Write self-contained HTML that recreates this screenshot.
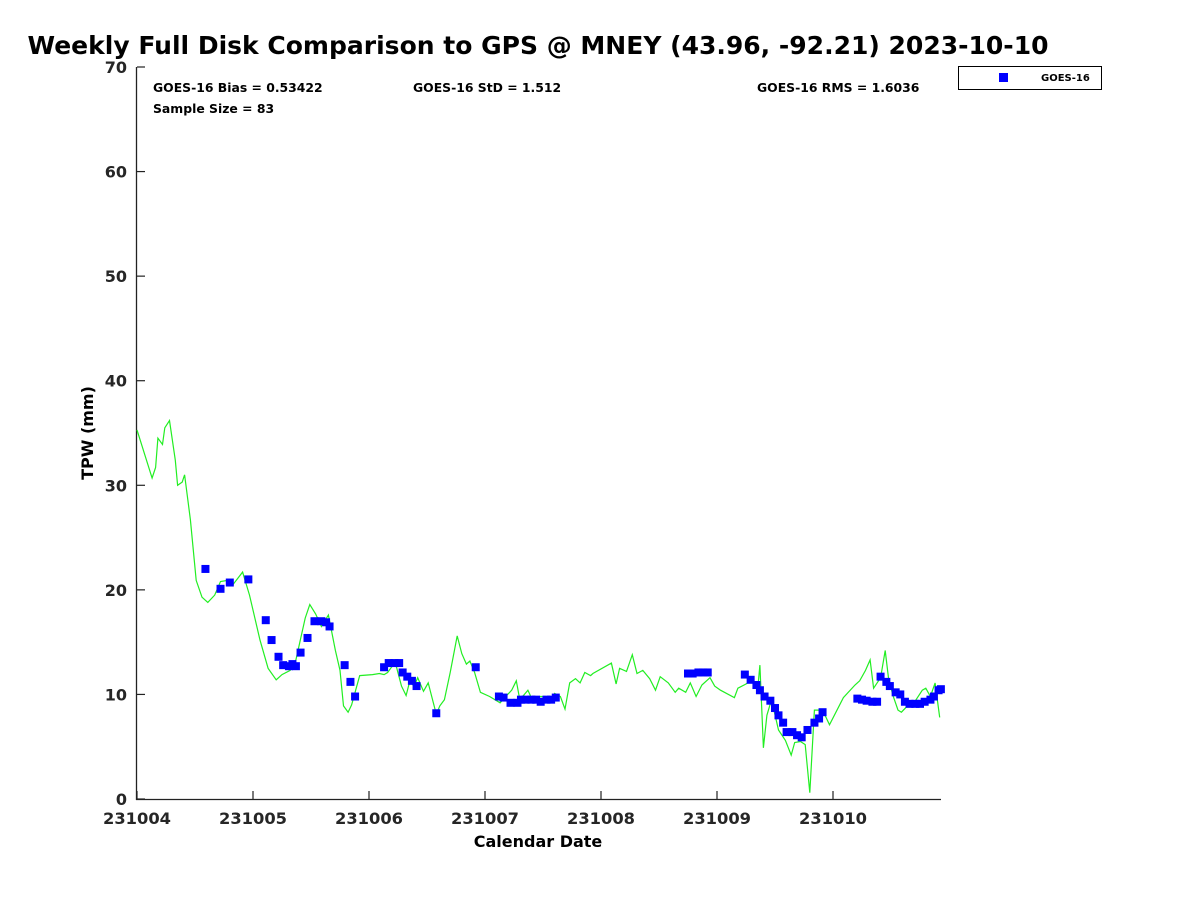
<!DOCTYPE html>
<html><head><meta charset="utf-8"><style>
body{margin:0;background:#fff;font-family:"Liberation Sans","DejaVu Sans",sans-serif}
svg text{font-family:"DejaVu Sans","Liberation Sans",sans-serif;font-weight:bold}
</style></head><body>
<svg id="chart" width="1200" height="900" xmlns="http://www.w3.org/2000/svg">
<rect width="1200" height="900" fill="#fff"/>
<text x="538" y="54" text-anchor="middle" font-size="25" textLength="1021" lengthAdjust="spacingAndGlyphs" fill="#000">Weekly Full Disk Comparison to GPS @ MNEY (43.96, -92.21) 2023-10-10</text>
<text x="153" y="92" font-size="12.4">GOES-16 Bias = 0.53422</text>
<text x="153" y="113" font-size="12.4">Sample Size = 83</text>
<text x="413" y="92" font-size="12.4">GOES-16 StD = 1.512</text>
<text x="757" y="92" font-size="12.4">GOES-16 RMS = 1.6036</text>
<g>
<rect x="958.5" y="66.5" width="143" height="23" fill="#fff" stroke="#000" stroke-width="1"/>
<rect x="999" y="73" width="9" height="9" fill="#0000ff"/>
<text x="1041" y="81" font-size="10">GOES-16</text>
</g>
<g id="axes"></g>
<g id="line"></g>
<g id="pts"></g>
<text transform="translate(93,433) rotate(-90)" text-anchor="middle" font-size="16">TPW (mm)</text>
<text x="538" y="847" text-anchor="middle" font-size="16">Calendar Date</text>
</svg>
<script>
const xTickLabels=["231004","231005","231006","231007","231008","231009","231010"];
const yTickValues=[0,10,20,30,40,50,60,70];
const gpsDays=[0,0.13,0.16,0.18,0.22,0.24,0.28,0.33,0.35,0.39,0.41,0.46,0.51,0.56,0.61,0.67,0.72,0.78,0.82,0.91,0.97,1.06,1.13,1.20,1.25,1.32,1.37,1.45,1.49,1.54,1.59,1.65,1.71,1.75,1.78,1.82,1.85,1.92,2.03,2.09,2.13,2.16,2.20,2.23,2.28,2.32,2.35,2.39,2.42,2.47,2.51,2.58,2.61,2.65,2.70,2.76,2.80,2.84,2.87,2.91,2.96,3.04,3.13,3.17,3.23,3.27,3.30,3.34,3.37,3.42,3.47,3.52,3.56,3.60,3.65,3.69,3.73,3.78,3.82,3.86,3.91,3.93,4.09,4.13,4.16,4.22,4.27,4.31,4.36,4.42,4.47,4.51,4.58,4.64,4.67,4.73,4.77,4.82,4.87,4.94,4.98,5.03,5.15,5.18,5.25,5.30,5.35,5.37,5.40,5.43,5.47,5.53,5.59,5.64,5.67,5.72,5.76,5.80,5.84,5.91,5.97,6.09,6.19,6.23,6.28,6.32,6.35,6.41,6.45,6.48,6.52,6.56,6.59,6.65,6.71,6.77,6.80,6.84,6.88,6.92];
const gpsValues=[35.3,30.7,31.7,34.5,33.9,35.5,36.2,32.4,30.0,30.3,31.0,26.7,20.9,19.3,18.8,19.5,20.8,20.9,20.4,21.7,19.5,15.2,12.5,11.4,11.9,12.3,13.3,17.3,18.6,17.7,16.5,17.6,14.2,12.3,8.9,8.3,9.0,11.8,11.9,12.0,11.9,12.1,12.7,12.9,10.8,9.9,11.2,10.8,11.6,10.3,11.1,8.1,8.9,9.5,12.1,15.6,13.9,12.9,13.2,12.1,10.2,9.8,9.2,9.7,10.4,11.3,9.5,10.0,10.4,9.2,9.8,9.8,9.5,10.1,9.8,8.6,11.1,11.5,11.1,12.1,11.8,12.0,13.0,11.0,12.5,12.2,13.8,12.0,12.3,11.5,10.4,11.7,11.1,10.2,10.6,10.2,11.1,9.8,10.9,11.6,10.8,10.4,9.7,10.6,11.0,11.4,10.4,12.8,4.9,8.0,9.5,6.6,5.6,4.2,5.4,5.5,5.2,0.6,8.5,8.5,7.1,9.7,10.9,11.3,12.3,13.3,10.6,11.6,14.2,11.4,9.8,8.5,8.3,9.0,9.4,10.4,10.6,9.8,11.1,7.8];
const goesDays=[0.59,0.72,0.80,0.96,1.11,1.16,1.22,1.26,1.31,1.34,1.37,1.41,1.47,1.53,1.59,1.63,1.66,1.79,1.84,1.88,2.13,2.17,2.22,2.26,2.29,2.33,2.37,2.41,2.58,2.92,3.12,3.16,3.22,3.28,3.31,3.35,3.40,3.44,3.48,3.53,3.57,3.61,4.75,4.79,4.84,4.88,4.92,5.24,5.29,5.34,5.37,5.41,5.46,5.50,5.53,5.57,5.60,5.65,5.69,5.73,5.78,5.84,5.88,5.91,6.21,6.25,6.29,6.34,6.38,6.41,6.46,6.49,6.54,6.58,6.62,6.66,6.71,6.75,6.79,6.84,6.87,6.91,6.93];
const goesValues=[22.0,20.1,20.7,21.0,17.1,15.2,13.6,12.8,12.7,12.9,12.7,14.0,15.4,17.0,17.0,16.9,16.5,12.8,11.2,9.8,12.6,13.0,13.0,13.0,12.1,11.7,11.3,10.8,8.2,12.6,9.8,9.7,9.2,9.2,9.5,9.5,9.5,9.5,9.3,9.5,9.5,9.7,12.0,12.0,12.1,12.1,12.1,11.9,11.4,10.9,10.4,9.8,9.4,8.7,8.0,7.3,6.4,6.4,6.1,5.9,6.6,7.3,7.7,8.3,9.6,9.5,9.4,9.3,9.3,11.7,11.2,10.8,10.2,10.0,9.3,9.1,9.1,9.1,9.3,9.5,9.8,10.4,10.5];

const NS="http://www.w3.org/2000/svg";
const X0=137,PXD=116,Y0=799,PXV=(799-67)/70,XR=941;
function xs(d){return X0+d*PXD;}
function ys(v){return Y0-v*PXV;}
function mk(tag,attrs,parent){const e=document.createElementNS(NS,tag);for(const k in attrs)e.setAttribute(k,attrs[k]);parent.appendChild(e);return e;}
const axes=document.getElementById('axes');
let e=mk('line',{x1:136.5,y1:67,x2:136.5,y2:800,stroke:'#222','stroke-width':1.3},axes);


e=mk('line',{x1:136,y1:799.5,x2:XR,y2:799.5,stroke:'#222','stroke-width':1.3},axes);


yTickValues.forEach(v=>{
  const y=ys(v);
  const t=mk('line',{x1:137,y1:y,x2:145,y2:y,stroke:'#222','stroke-width':1.2},axes);
  
  
  const l=mk('text',{x:127,y:y+6,'text-anchor':'end','font-size':16,fill:'#262626'},axes);
  
  
  l.textContent=v;
});
xTickLabels.forEach((s,i)=>{
  const x=xs(i);
  const t=mk('line',{x1:x,y1:799,x2:x,y2:791,stroke:'#222','stroke-width':1.2},axes);
  
  
  const l=mk('text',{x:x,y:824,'text-anchor':'middle','font-size':16.3,fill:'#262626'},axes);
  
  
  l.textContent=s;
});
const pts=gpsDays.map((d,i)=>xs(d).toFixed(1)+','+ys(gpsValues[i]).toFixed(1)).join(' ');
const pl=mk('polyline',{points:pts,fill:'none',stroke:'#22ee22','stroke-width':1.2},document.getElementById('line'));


const pg=document.getElementById('pts');
goesDays.forEach((d,i)=>{
  const r=mk('rect',{x:xs(d)-4,y:ys(goesValues[i])-4,width:8,height:8,fill:'#0000ff'},pg);
  
  
});
</script>
</body></html>
